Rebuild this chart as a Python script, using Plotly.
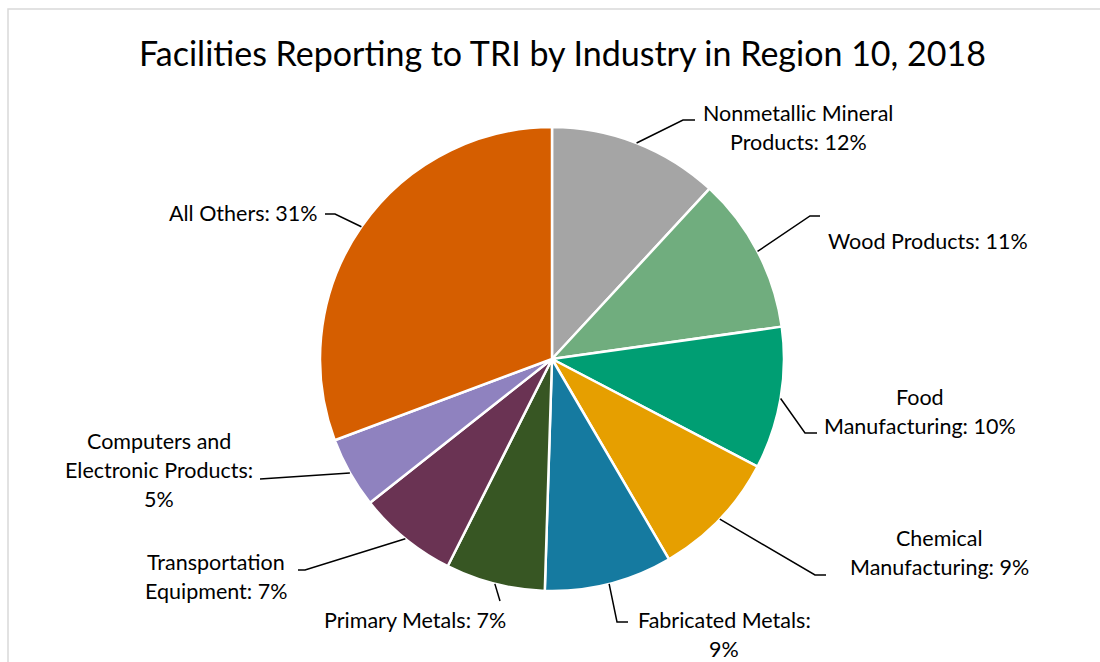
import math
import plotly.graph_objects as go

# Share of TRI-reporting facilities by industry (percent), clockwise from 12 o'clock
industries = [
    "Nonmetallic Mineral Products",
    "Wood Products",
    "Food Manufacturing",
    "Chemical Manufacturing",
    "Fabricated Metals",
    "Primary Metals",
    "Transportation Equipment",
    "Computers and Electronic Products",
    "All Others",
]
shares = [12, 11, 10, 9, 9, 7, 7, 5, 31]
colors = ["#A5A5A5", "#70AD7E", "#009E73", "#E69F00", "#157AA0",
          "#375623", "#6A3353", "#8F82BF", "#D55E00"]

TITLE = "Facilities Reporting to TRI by Industry in Region 10, 2018"

# ---- page geometry (pixels) ----
W, H = 1100, 662
CX, CY, R = 552, 359, 232
FONT = "Lato, Calibri, sans-serif"
LINE_GAP = 29


def px(x):
    return x / W


def py(y):
    return 1 - y / H


# data-label layout: line wrapping, text anchor (x, first-line y, anchor), leader knee/end
label_wrap = [
    ["Nonmetallic Mineral", "Products: {v}%"],
    ["Wood Products: {v}%"],
    ["Food", "Manufacturing: {v}%"],
    ["Chemical", "Manufacturing: {v}%"],
    ["Fabricated Metals:", "{v}%"],
    ["Primary Metals: {v}%"],
    ["Transportation", "Equipment: {v}%"],
    ["Computers and", "Electronic Products:", "{v}%"],
    ["All Others: {v}%"],
]
label_anchor = [
    (798, 113, "center"),
    (826, 241, "left"),
    (920, 397, "center"),
    (939, 538, "center"),
    (724, 620, "center"),
    (415, 620, "center"),
    (216, 562, "center"),
    (159, 441, "center"),
    (320, 213, "right"),
]
leader_knee = [
    ((683, 120), (695, 120)),
    ((810, 216), (820, 216)),
    ((805, 433), (817, 433)),
    ((815, 575), (826, 575)),
    ((617, 622), (628, 622)),
    ((500, 601), (500, 601)),
    ((305, 570), (298, 570)),
    ((260, 479), (260, 479)),
    ((335, 214), (325, 214)),
]

fig = go.Figure()
fig.add_trace(go.Pie(
    labels=industries,
    values=shares,
    sort=False,
    direction="clockwise",
    rotation=0,
    marker=dict(colors=colors, line=dict(color="white", width=2.5)),
    textinfo="none",
    hoverinfo="label+value",
    showlegend=False,
    domain=dict(x=[px(CX - R), px(CX + R)], y=[py(CY + R), py(CY - R)]),
))

annotations = [dict(
    text=TITLE, x=px(562), y=py(52), xref="paper", yref="paper",
    xanchor="center", yanchor="middle", showarrow=False,
    font=dict(family=FONT, size=34, color="#000000"),
)]
shapes = [dict(
    type="rect", xref="paper", yref="paper",
    x0=px(8), x1=1.05, y0=-0.05, y1=py(9),
    line=dict(color="#D9D9D9", width=1.5), fillcolor="rgba(0,0,0,0)",
)]

total = float(sum(shares))
cum = 0.0
for i, v in enumerate(shares):
    theta = 2 * math.pi * (cum + v / 2) / total
    cum += v
    rx = CX + R * math.sin(theta)
    ry = CY - R * math.cos(theta)
    (kx, ky), (ex, ey) = leader_knee[i]
    shapes.append(dict(
        type="path", xref="paper", yref="paper",
        path=f"M {px(rx)},{py(ry)} L {px(kx)},{py(ky)} L {px(ex)},{py(ey)}",
        line=dict(color="#000000", width=1.5),
    ))
    ax, ay, anchor = label_anchor[i]
    for j, line in enumerate(label_wrap[i]):
        annotations.append(dict(
            text=line.format(v=v), x=px(ax), y=py(ay + j * LINE_GAP),
            xref="paper", yref="paper", xanchor=anchor, yanchor="middle",
            showarrow=False, font=dict(family=FONT, size=21.5, color="#000000"),
        ))

fig.update_layout(
    width=W, height=H, autosize=False,
    margin=dict(l=0, r=0, t=0, b=0),
    paper_bgcolor="white", plot_bgcolor="white",
    annotations=annotations, shapes=shapes,
)

fig.write_html("out.html")
